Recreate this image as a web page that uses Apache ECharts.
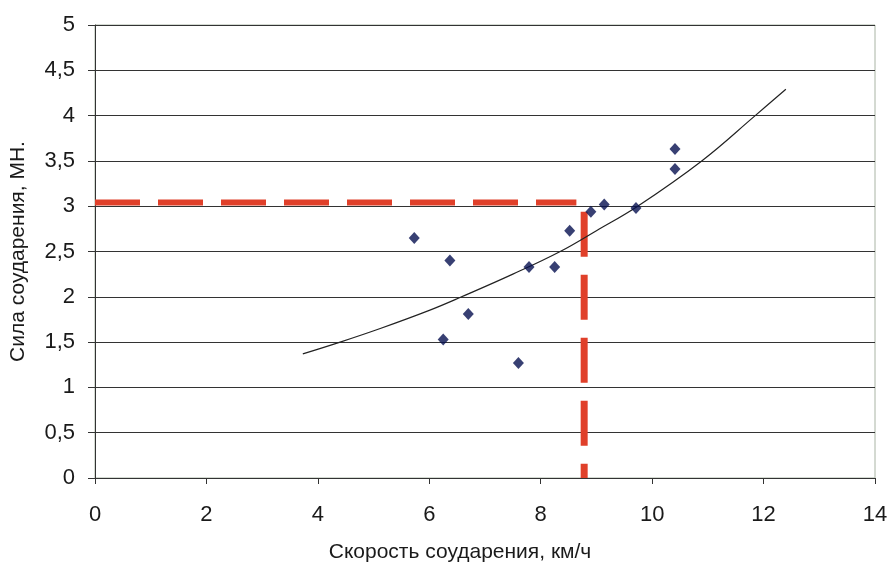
<!DOCTYPE html>
<html>
<head>
<meta charset="utf-8">
<script src="https://cdn.jsdelivr.net/npm/echarts@6/dist/echarts.min.js"></script>
<style>
  html, body { margin: 0; padding: 0; background: #fff; }
  #main { width: 892px; height: 582px; }
</style>
</head>
<body>
<div id="main"></div>
<script>
// измеренные точки: скорость, км/ч и сила, МН
var speed = [5.73, 6.37, 6.70, 6.25, 7.60, 7.79, 8.25, 8.52, 8.90, 9.14, 9.71, 10.41, 10.41];
var force = [2.65, 2.40, 1.81, 1.53, 1.27, 2.33, 2.33, 2.73, 2.94, 3.02, 2.98, 3.63, 3.41];

// линия тренда
var trendX = [3.73, 4.40, 5.12, 6.00, 6.58, 7.50, 8.35, 9.00, 9.74, 10.89, 11.85, 12.40];
var trendY = [1.37, 1.50, 1.65, 1.85, 2.00, 2.25, 2.50, 2.73, 3.00, 3.50, 4.00, 4.29];

// красные пунктиры
var hLineX = [0, 8.64];
var hLineY = [3.04, 3.04];
var vLineX = [8.78, 8.78];
var vLineY = [2.94, 0];

function zip(a, b) {
  return a.map(function (v, i) { return [v, b[i]]; });
}

var myChart = echarts.init(document.getElementById('main'));
var txt = '#1a1a1a';
var fnt = '"Liberation Sans", Arial, sans-serif';

myChart.setOption({
  animation: false,
  grid: {
    left: 95, right: 17, top: 25, bottom: 104,
    containLabel: false, outerBoundsMode: 'none',
    show: true, borderColor: '#a9b4a4', borderWidth: 1
  },
  xAxis: {
    type: 'value', min: 0, max: 14, interval: 2,
    name: 'Скорость соударения, км/ч',
    nameLocation: 'middle', nameGap: 64,
    nameTextStyle: { color: txt, fontSize: 21, fontFamily: fnt, padding: [0, 50, 0, 0] },
    axisLine: { show: true, lineStyle: { color: '#333', width: 1 } },
    axisTick: { show: true, length: 6, inside: false, lineStyle: { color: '#333' } },
    axisLabel: { color: txt, fontSize: 22, fontFamily: fnt, margin: 26 },
    splitLine: { show: false }
  },
  yAxis: {
    type: 'value', min: 0, max: 5, interval: 0.5,
    name: 'Сила соударения, МН.',
    nameLocation: 'middle', nameGap: 66,
    nameTextStyle: { color: txt, fontSize: 21, fontFamily: fnt },
    axisLine: { show: true, lineStyle: { color: '#333', width: 1 } },
    axisTick: { show: true, length: 7, lineStyle: { color: '#333' } },
    axisLabel: {
      color: txt, fontSize: 22, fontFamily: fnt, margin: 20,
      formatter: function (v) { return String(v).replace('.', ','); }
    },
    splitLine: { show: true, lineStyle: { color: '#333', width: 1 } }
  },
  series: [
    {
      type: 'line', data: zip(hLineX, hLineY), symbol: 'none', silent: true, z: 2,
      lineStyle: { color: '#e0402a', width: 6, type: [45, 18] }
    },
    {
      type: 'line', data: zip(vLineX, vLineY), symbol: 'none', silent: true, z: 2,
      lineStyle: { color: '#e0402a', width: 7, type: [45, 18] }
    },
    {
      type: 'line', data: zip(trendX, trendY), symbol: 'none', smooth: 0.4, z: 3,
      lineStyle: { color: '#222', width: 1.2 }
    },
    {
      type: 'scatter', data: zip(speed, force), symbol: 'diamond', symbolSize: [11, 12], z: 4,
      itemStyle: { color: '#061050' }
    }
  ]
});
</script>
</body>
</html>
